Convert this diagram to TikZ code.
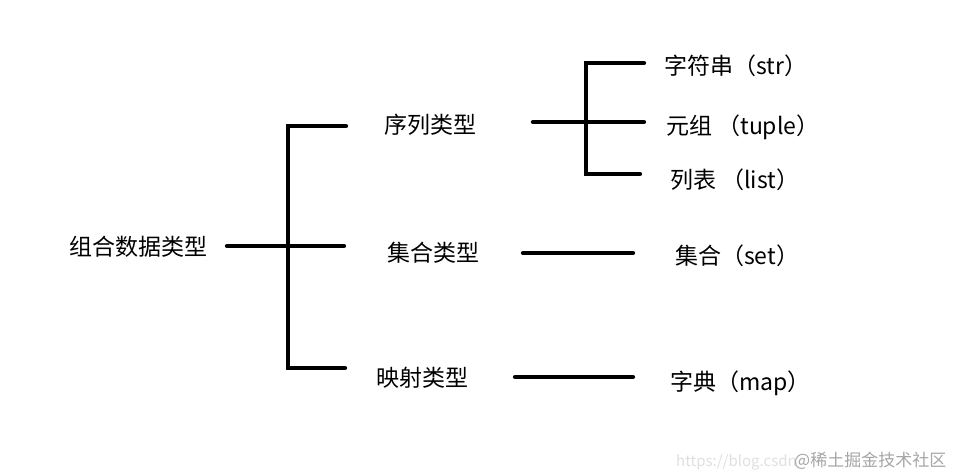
\documentclass[tikz,border=0pt]{standalone}
\usepackage{fontspec}
\setmainfont{Noto Sans CJK SC}
\tikzset{
  lbl/.style={anchor=base west, inner sep=0pt, font=\fontsize{23}{25}\selectfont, text=black},
  wm/.style={anchor=base west, inner sep=0pt, font=\fontsize{17}{19}\selectfont},
  bar/.style={line width=4.3pt, line cap=round, line join=miter, black}
}
\begin{document}
\begin{tikzpicture}[x=1pt,y=-1pt]
\useasboundingbox[fill=white] (0,0) rectangle (958,476);
% text nodes
\node[lbl] (root) at (69,255) {组合数据类型};
\node[lbl] (seq) at (384,133) {序列类型};
\node[lbl] (set) at (387,261) {集合类型};
\node[lbl] (map) at (376,386) {映射类型};
\node[lbl] (str) at (664,75) {字符串（str）};
\node[lbl] (tup) at (666,135) {元组 （tuple）};
\node[lbl] (lst) at (670,188) {列表 （list）};
\node[lbl] (sset) at (675,264) {集合（set）};
\node[lbl] (dict) at (670,390) {字典（map）};
% watermark
\node[wm, font=\fontsize{15}{17}\selectfont, text=black!12] (wm1) at (676,466) {https://blog.csdn};
\node[wm, text=black!35] (wm2) at (794,466) {@稀土掘金技术社区};
% bracket coordinates
\coordinate (a0) at (227,246);
\coordinate (a1) at (288,246);
\coordinate (a2) at (344,246);
\coordinate (at) at (288,126);
\coordinate (ab) at (288,368);
\coordinate (at2) at (346,126);
\coordinate (ab2) at (345,368);
\coordinate (b0) at (533,122);
\coordinate (b1) at (586,122);
\coordinate (b2) at (644,122);
\coordinate (bt) at (586,63);
\coordinate (bb) at (586,174);
\coordinate (bt2) at (644,63);
\coordinate (bb2) at (640,174);
\coordinate (c0) at (523,253);
\coordinate (c1) at (633,253);
\coordinate (d0) at (515,377);
\coordinate (d1) at (633,377);
% brackets
\draw[bar] (a0) -- (a2);
\draw[bar] (at2) -- (at) -- (ab) -- (ab2);
\draw[bar] (b0) -- (b2);
\draw[bar] (bt2) -- (bt) -- (bb) -- (bb2);
\draw[bar] (c0) -- (c1);
\draw[bar] (d0) -- (d1);
\end{tikzpicture}
\end{document}
